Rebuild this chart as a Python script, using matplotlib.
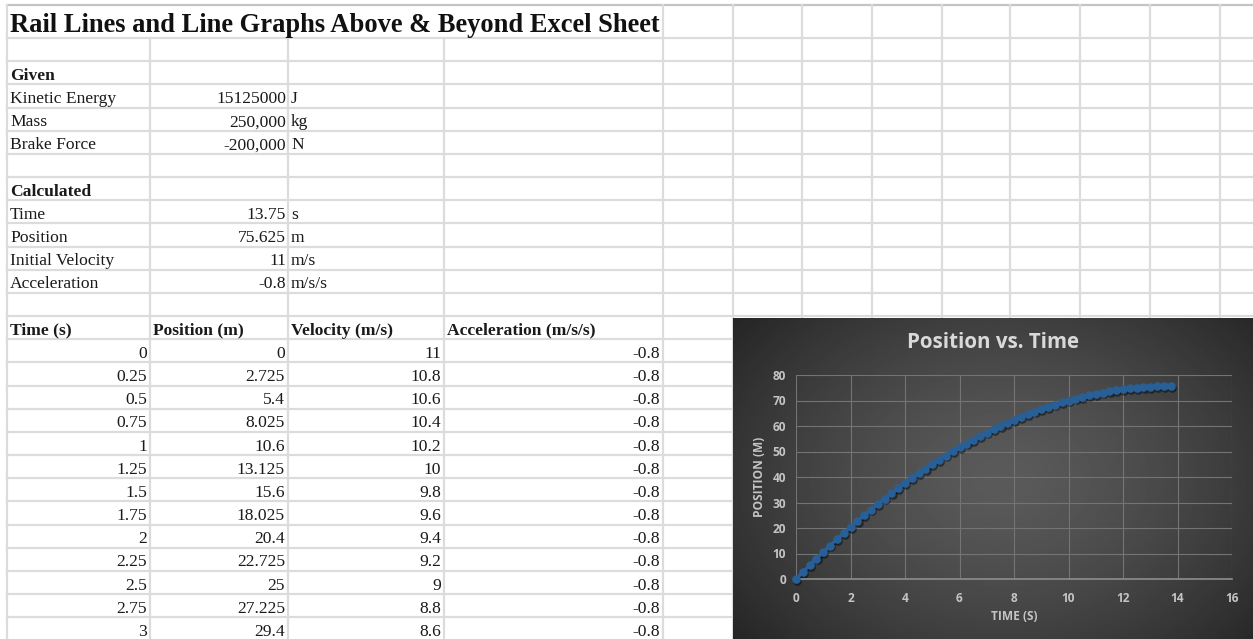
import matplotlib.pyplot as plt
import matplotlib.transforms as mtransforms
import numpy as np

# ===== SHEET DATA =====
sheet_title = "Rail Lines and Line Graphs Above & Beyond Excel Sheet"

given_labels = ["Kinetic Energy", "Mass", "Brake Force"]
given_values = [15125000, 250000, -200000]
given_formats = ["{:d}", "{:,}", "{:,}"]
given_units = ["J", "kg", "N"]

calc_labels = ["Time", "Position", "Initial Velocity", "Acceleration"]
calc_values = [13.75, 75.625, 11, -0.8]
calc_units = ["s", "m", "m/s", "m/s/s"]

table_headers = ["Time (s)", "Position (m)", "Velocity (m/s)", "Acceleration (m/s/s)"]

# time steps of 0.25 s until the train stops
time_s = [0, 0.25, 0.5, 0.75, 1, 1.25, 1.5, 1.75, 2, 2.25, 2.5, 2.75, 3,
          3.25, 3.5, 3.75, 4, 4.25, 4.5, 4.75, 5, 5.25, 5.5, 5.75, 6,
          6.25, 6.5, 6.75, 7, 7.25, 7.5, 7.75, 8, 8.25, 8.5, 8.75, 9,
          9.25, 9.5, 9.75, 10, 10.25, 10.5, 10.75, 11, 11.25, 11.5, 11.75,
          12, 12.25, 12.5, 12.75, 13, 13.25, 13.5, 13.75]
position_m = [0, 2.725, 5.4, 8.025, 10.6, 13.125, 15.6, 18.025, 20.4, 22.725,
              25, 27.225, 29.4, 31.525, 33.6, 35.625, 37.6, 39.525, 41.4,
              43.225, 45, 46.725, 48.4, 50.025, 51.6, 53.125, 54.6, 56.025,
              57.4, 58.725, 60, 61.225, 62.4, 63.525, 64.6, 65.625, 66.6,
              67.525, 68.4, 69.225, 70, 70.725, 71.4, 72.025, 72.6, 73.125,
              73.6, 74.025, 74.4, 74.725, 75, 75.225, 75.4, 75.525, 75.6,
              75.625]
velocity_ms = [11, 10.8, 10.6, 10.4, 10.2, 10, 9.8, 9.6, 9.4, 9.2, 9, 8.8, 8.6]
accel_mss = [-0.8] * 13

chart_title = "Position vs. Time"
x_label = "TIME (S)"
y_label = "POSITION (M)"

# ===== FIGURE =====
W, H = 1253, 639
fig = plt.figure(figsize=(W / 100, H / 100), dpi=100)
fig.patch.set_facecolor('white')

sheet = fig.add_axes([0, 0, 1, 1])
sheet.set_xlim(0, W)
sheet.set_ylim(H, 0)
sheet.axis('off')

serif = 'Liberation Serif'
grid_c = '#dcdcdc'
row_top, row_h = 38, 23.17
col_x = [7, 150, 288, 444, 663, 733, 802, 872, 942, 1010, 1080, 1150, 1220]
chart_left, chart_top = 733, 318

# ===== CELL GRID =====
n_rows = 26
for i in range(n_rows + 1):
    y = row_top + i * row_h
    x_end = W if y < chart_top else chart_left
    sheet.plot([col_x[0], x_end], [y, y], color=grid_c, lw=1.6, zorder=1)
sheet.plot([col_x[0], W], [5, 5], color='#c4c4c4', lw=1.6, zorder=1)
for x in col_x:
    y0 = row_top if x in (150, 288, 444) else 5
    y1 = H if x <= chart_left else chart_top
    sheet.plot([x, x], [y0, y1], color=grid_c, lw=1.6, zorder=1)


def row_base(r):
    return row_top + (r + 1) * row_h - 4.5


def cell(text, x, r, ha='left', bold=False, size=12.6):
    sheet.text(x, row_base(r), text, ha=ha, va='baseline', fontsize=size,
               family=serif, fontweight='bold' if bold else 'normal',
               color='#1a1a1a', zorder=3)


sheet.text(10, 32, sheet_title, ha='left', va='baseline', fontsize=19.1,
           family=serif, fontweight='bold', color='#111111', zorder=3)

# ===== GIVEN / CALCULATED BLOCKS =====
cell("Given", 10, 1, bold=True)
for i, (lab, val, fmt, unit) in enumerate(zip(given_labels, given_values,
                                               given_formats, given_units)):
    cell(lab, 10, 2 + i)
    cell(fmt.format(val), 286, 2 + i, ha='right')
    cell(unit, 291, 2 + i)

cell("Calculated", 10, 6, bold=True)
for i, (lab, val, unit) in enumerate(zip(calc_labels, calc_values, calc_units)):
    cell(lab, 10, 7 + i)
    cell(f"{val:g}", 286, 7 + i, ha='right')
    cell(unit, 291, 7 + i)

# ===== DATA TABLE =====
head_x = [10, 153, 291, 447]
for hx, head in zip(head_x, table_headers):
    cell(head, hx, 12, bold=True)

right_x = [147, 285, 441, 660]
for i in range(len(velocity_ms)):
    row_vals = [time_s[i], position_m[i], velocity_ms[i], accel_mss[i]]
    for rx, v in zip(right_x, row_vals):
        cell(f"{v:g}", rx, 13 + i, ha='right')

# ===== CHART BACKGROUND =====
bg = fig.add_axes([chart_left / W, 0, (W - chart_left) / W, (H - chart_top) / H])
yy, xx = np.mgrid[0:1:240j, 0:1:380j]
r = np.sqrt(((xx - 0.52) / 0.62) ** 2 + ((yy - 0.5) / 0.75) ** 2)
shade = 0.355 - 0.19 * np.clip(r, 0, 1.2) ** 1.4
bg.imshow(shade, cmap='gray', vmin=0, vmax=1, aspect='auto',
          extent=[0, 1, 0, 1], interpolation='bilinear')
bg.set_xlim(0, 1)
bg.set_ylim(0, 1)
bg.axis('off')

# ===== POSITION vs TIME CHART =====
ax = fig.add_axes([796 / W, 1 - 579 / H, (1232 - 796) / W, (579 - 375) / H])
ax.patch.set_alpha(0)
ax.set_xlim(0, 16)
ax.set_ylim(0, 80)
ax.set_xticks(range(0, 17, 2))
ax.set_yticks(range(0, 81, 10))
ax.grid(True, color='#747474', lw=0.8)
ax.set_axisbelow(True)
for side in ['top', 'right', 'left']:
    ax.spines[side].set_visible(False)
ax.spines['bottom'].set_color('#8e8e8e')
ax.spines['bottom'].set_linewidth(1.2)
ax.tick_params(length=0, colors='#c4c4c4', labelsize=8.6, pad=9)
ax.tick_params(axis='y', pad=7)
for lab in ax.get_xticklabels() + ax.get_yticklabels():
    lab.set_family('Open Sans')
    lab.set_fontweight('bold')

shadow = mtransforms.offset_copy(ax.transData, fig=fig, x=1.2, y=-1.8, units='dots')
ax.plot(time_s, position_m, color='black', alpha=0.45, lw=2.4, marker='o',
        markersize=6.2, markeredgewidth=0, transform=shadow, clip_on=False)
ax.plot(time_s, position_m, color='#275f96', lw=2.4, marker='o',
        markersize=6.2, markeredgewidth=0, clip_on=False, zorder=3)

fig.text(993 / W, 1 - 343 / H, chart_title, ha='center', va='center',
         fontsize=14.8, family='Open Sans', fontweight='bold', color='#d9d9d9')
fig.text(1014 / W, 1 - 616 / H, x_label, ha='center', va='center',
         fontsize=8.6, family='Open Sans', fontweight='bold', color='#c4c4c4')
fig.text(760 / W, 1 - 477 / H, y_label, ha='center', va='center', rotation=90,
         fontsize=8.6, family='Open Sans', fontweight='bold', color='#c4c4c4')

fig.savefig('out.png', dpi=100, facecolor='white')
